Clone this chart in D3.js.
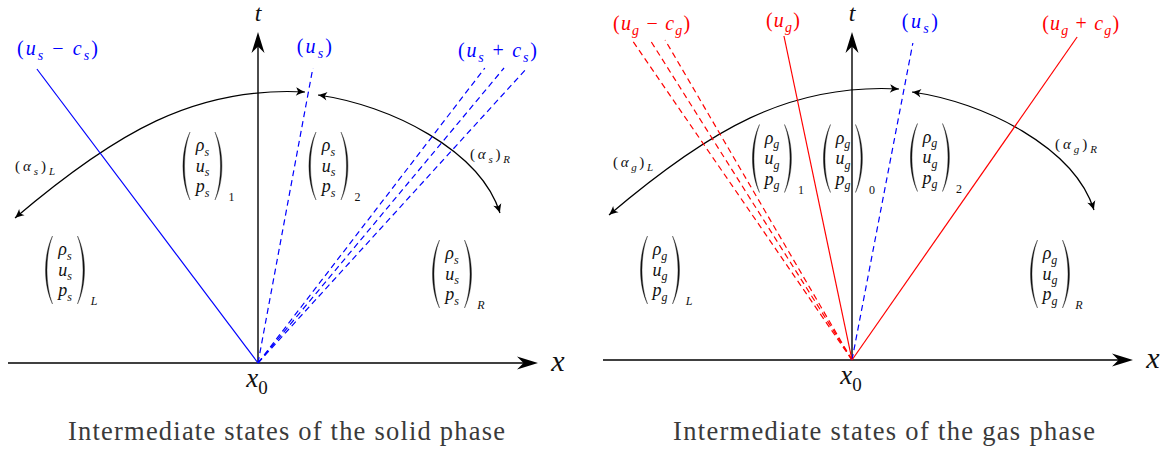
<!DOCTYPE html>
<html>
<head>
<meta charset="utf-8">
<script src="https://cdn.jsdelivr.net/npm/d3@7"></script>
<style>
  html, body { margin: 0; padding: 0; background: #ffffff; }
  svg { display: block; }
</style>
</head>
<body>
<svg id="fig" width="1169" height="449"></svg>
<script>
// ---- Wave fans: speed dx/dt of every ray (diagram units) and the time where it stops ----
const solidWaveNames  = ["u_s-c_s", "u_s", "u_s+c_s"];
const solidWaveLabels = ["(u_s − c_s)", "(u_s)", "(u_s + c_s)"];
const solidWaveSpeeds = [[-0.752], [0.186], [0.769, 0.834, 0.912]];
const solidWaveEnds   = [2.94, 2.95, 2.95];

const gasWaveNames  = ["u_g-c_g", "u_g", "u_s", "u_g+c_g"];
const gasWaveLabels = ["(u_g − c_g)", "(u_g)", "(u_s)", "(u_g + c_g)"];
const gasWaveSpeeds = [[-0.6875, -0.631, -0.584], [-0.21], [0.192], [0.697]];
const gasWaveEnds   = [3.2, 3.24, 3.17, 3.23];

// ---- Constant states between the waves ----
const solidStates = ["L", "1", "2", "R"];
const gasStates   = ["L", "1", "0", "2", "R"];
const solidVector = ["ρ_s", "u_s", "p_s"];
const gasVector   = ["ρ_g", "u_g", "p_g"];

// ---- Volume-fraction couplings and captions ----
const solidAlpha = ["(α_s)_L", "(α_s)_R"];
const gasAlpha   = ["(α_g)_L", "(α_g)_R"];
const captions   = ["Intermediate states of the solid phase", "Intermediate states of the gas phase"];
const axisNames  = ["x", "t", "x_0"];

// ---- Drawing setup ----
const BLUE = "#0000ff", RED = "#ff0000", INK = "#111111";
const SERIF = "\"Liberation Serif\", \"Times New Roman\", Times, serif";

const svg = d3.select("#fig");

// every text element gets the serif face directly
function addText(g) {
  return g.append("text").style("font-family", SERIF);
}

const waveStyle = {
  solid: {
    "u_s-c_s": { color: BLUE, dash: null },
    "u_s":     { color: BLUE, dash: "6,4" },
    "u_s+c_s": { color: BLUE, dash: "6,4" }
  },
  gas: {
    "u_g-c_g": { color: RED,  dash: "6,4" },
    "u_g":     { color: RED,  dash: null },
    "u_s":     { color: BLUE, dash: "6,4" },
    "u_g+c_g": { color: RED,  dash: null }
  }
};

const panels = [
  {
    key: "solid",
    xDomain: [-2.5, 2.8], xRange: [8, 538],
    tDomain: [0, 3.31],   tRange: [363, 32],
    names: solidWaveNames, labels: solidWaveLabels, speeds: solidWaveSpeeds, ends: solidWaveEnds,
    // label anchor: [index of the ray used, dx px, baseline dy px, width px]
    labelPlace: [[0, 20.5, -14, 81], [0, 1.5, -15, 35], [1, -6.5, -11, 79]],
    states: solidStates, vector: solidVector,
    statePos: [[-1.93, 0.93], [-0.555, 1.97], [0.705, 1.97], [1.94, 0.89]],
    alpha: solidAlpha,
    alphaPos: [[-2.23, 1.92, 40], [2.32, 2.04, 40]],
    caption: captions[0], captionX: 286.5, captionW: 437
  },
  {
    key: "gas",
    xDomain: [-2.49, 2.81], xRange: [603, 1133],
    tDomain: [0, 3.28],     tRange: [360, 32],
    names: gasWaveNames, labels: gasWaveLabels, speeds: gasWaveSpeeds, ends: gasWaveEnds,
    labelPlace: [[1, 1.5, -10, 77], [0, -1, -9, 34], [0, 7, -15, 36], [0, 3.5, -7, 77]],
    states: gasStates, vector: gasVector,
    statePos: [[-1.92, 0.90], [-0.80, 2.015], [-0.09, 2.015], [0.78, 2.025], [1.98, 0.86]],
    alpha: gasAlpha,
    alphaPos: [[-2.19, 1.93, 40], [2.24, 2.11, 42]],
    caption: captions[1], captionX: 884, captionW: 422
  }
];

// Characteristic-coupling arcs (Bezier control points in diagram units, origin at x0)
const arcLeft  = [[-2.43, 1.45], [-1.43, 2.30], [-0.63, 2.77], [0.47, 2.71]];
const arcRight = [[0.60, 2.68], [1.32, 2.58], [2.22, 2.13], [2.42, 1.50]];

// Write a small math string ("u_s", "(α_s)_L") as tspans: letters italic, "_c" subscripts
function mathText(sel, str, size, subSize) {
  const tokens = [];
  for (let i = 0; i < str.length; i++) {
    let ch = str[i], sub = false;
    if (ch === "_") { sub = true; ch = str[++i]; }
    tokens.push({ ch: ch === " " ? "\u00A0" : ch, sub });
  }
  let shifted = false;
  const drop = size * 0.25;
  tokens.forEach(tk => {
    const italic = /[A-Za-zα-ω]/.test(tk.ch);
    const ts = sel.append("tspan")
      .text(tk.ch)
      .style("font-family", SERIF)
      .style("font-style", italic ? "italic" : "normal")
      .style("font-size", (tk.sub ? subSize : size) + "px");
    if (tk.sub && !shifted) { ts.attr("dy", drop); shifted = true; }
    else if (!tk.sub && shifted) { ts.attr("dy", -drop); shifted = false; }
  });
  return sel;
}

// Filled arrowhead at (x, y) pointing along angle (radians)
function arrowHead(g, x, y, ang, kind) {
  const d = kind === "big"
    ? "M0,0 L-21,-6.5 L-14.5,0 L-21,6.5 Z"
    : "M0,0 C-2.5,-0.8 -6,-2.6 -9,-4.2 L-6.8,0 L-9,4.2 C-6,2.6 -2.5,0.8 0,0 Z";
  g.append("path")
    .attr("d", d)
    .attr("fill", "#000")
    .attr("transform", `translate(${x},${y}) rotate(${ang * 180 / Math.PI})`);
}

// Tall TeX-style parenthesis as a filled crescent
function paren(g, xEdge, xMid, top, bot, side) {
  const h = bot - top, th = 1.5 * side;
  const c1 = (xMid - 0.25 * xEdge) / 0.75;
  const c2 = (xMid + th - 0.25 * xEdge) / 0.75;
  const d = `M${xEdge},${top} C${c1},${top + h * 0.28} ${c1},${bot - h * 0.28} ${xEdge},${bot}` +
            ` C${c2},${bot - h * 0.28} ${c2},${top + h * 0.28} ${xEdge},${top} Z`;
  g.append("path").attr("d", d).attr("fill", INK).attr("stroke", INK).attr("stroke-width", 0.35);
}

function stateVector(g, cx, cy, entries, sub) {
  paren(g, cx - 12.5, cx - 19.5, cy - 34, cy + 34, 1);
  paren(g, cx + 12.5, cx + 19.5, cy - 34, cy + 34, -1);
  const rows = [-15, 5.5, 26];
  entries.forEach((e, i) => {
    const t = addText(g)
      .attr("x", cx).attr("y", cy + rows[i])
      .attr("text-anchor", "middle").attr("fill", INK);
    mathText(t, e, 18, 12);
  });
  const s = addText(g)
    .attr("x", cx + 29).attr("y", cy + 35)
    .attr("text-anchor", "middle").attr("fill", INK);
  mathText(s, sub, 12, 9);
}

panels.forEach(p => {
  const g = svg.append("g").attr("class", "panel-" + p.key);
  const x = d3.scaleLinear().domain(p.xDomain).range(p.xRange);
  const t = d3.scaleLinear().domain(p.tDomain).range(p.tRange);
  const ox = x(0), oy = t(0);

  // Coupling arcs with arrowheads on both ends
  [arcLeft, arcRight].forEach(cp => {
    const P = cp.map(([a, b]) => [x(a), t(b)]);
    const path = d3.path();
    path.moveTo(P[0][0], P[0][1]);
    path.bezierCurveTo(P[1][0], P[1][1], P[2][0], P[2][1], P[3][0], P[3][1]);
    g.append("path").attr("d", path.toString())
      .attr("fill", "none").attr("stroke", "#000").attr("stroke-width", 1.2);
    arrowHead(g, P[0][0], P[0][1], Math.atan2(P[0][1] - P[1][1], P[0][0] - P[1][0]), "small");
    arrowHead(g, P[3][0], P[3][1], Math.atan2(P[3][1] - P[2][1], P[3][0] - P[2][0]), "small");
  });

  // Axes
  g.append("line")
    .attr("x1", x(p.xDomain[0])).attr("y1", oy)
    .attr("x2", x(p.xDomain[1]) - 10).attr("y2", oy)
    .attr("stroke", "#000").attr("stroke-width", 1.4);
  arrowHead(g, x(p.xDomain[1]), oy, 0, "big");
  g.append("line")
    .attr("x1", ox).attr("y1", oy)
    .attr("x2", ox).attr("y2", t(p.tDomain[1]) + 10)
    .attr("stroke", "#000").attr("stroke-width", 1.4);
  arrowHead(g, ox, t(p.tDomain[1]), -Math.PI / 2, "big");

  // Rays of every wave family
  p.names.forEach((name, i) => {
    const st = waveStyle[p.key][name];
    p.speeds[i].forEach(sp => {
      g.append("line")
        .attr("x1", ox).attr("y1", oy)
        .attr("x2", x(sp * p.ends[i])).attr("y2", t(p.ends[i]))
        .attr("stroke", st.color).attr("stroke-width", 1.2)
        .attr("stroke-dasharray", st.dash);
    });
    const [k, dx, dy, w] = p.labelPlace[i];
    const sp = p.speeds[i][k];
    const lab = addText(g)
      .attr("x", x(sp * p.ends[i]) + dx).attr("y", t(p.ends[i]) + dy)
      .attr("text-anchor", "middle")
      .attr("fill", st.color)
      .attr("textLength", w).attr("lengthAdjust", "spacing");
    mathText(lab, p.labels[i], 20, 14);
  });

  // State vectors
  p.states.forEach((s, i) => {
    const [a, b] = p.statePos[i];
    stateVector(g, x(a), t(b), p.vector, s);
  });

  // Coupling labels
  p.alpha.forEach((s, i) => {
    const [a, b, w] = p.alphaPos[i];
    const lab = addText(g)
      .attr("x", x(a)).attr("y", t(b))
      .attr("text-anchor", "middle").attr("fill", INK)
      .attr("textLength", w).attr("lengthAdjust", "spacing");
    mathText(lab, s, 15, 11);
  });

  // Axis names
  addText(g).attr("x", ox).attr("y", t(p.tDomain[1]) - 11)
    .attr("text-anchor", "middle")
    .style("font-style", "italic").style("font-size", "24px").attr("fill", INK)
    .text(axisNames[1]);
  addText(g).attr("x", x(p.xDomain[1]) + 20).attr("y", oy + 8)
    .attr("text-anchor", "middle")
    .style("font-style", "italic").style("font-size", "30px").attr("fill", INK)
    .text(axisNames[0]);
  const x0 = addText(g).attr("x", ox - 1).attr("y", oy + 24)
    .attr("text-anchor", "middle").attr("fill", INK);
  mathText(x0, axisNames[2], 27, 19);

  // Caption
  addText(g).attr("x", p.captionX).attr("y", 440)
    .attr("text-anchor", "middle")
    .style("font-size", "26.5px").attr("fill", "#3a3a3a")
    .attr("textLength", p.captionW).attr("lengthAdjust", "spacing")
    .text(p.caption);
});
</script>
</body>
</html>
